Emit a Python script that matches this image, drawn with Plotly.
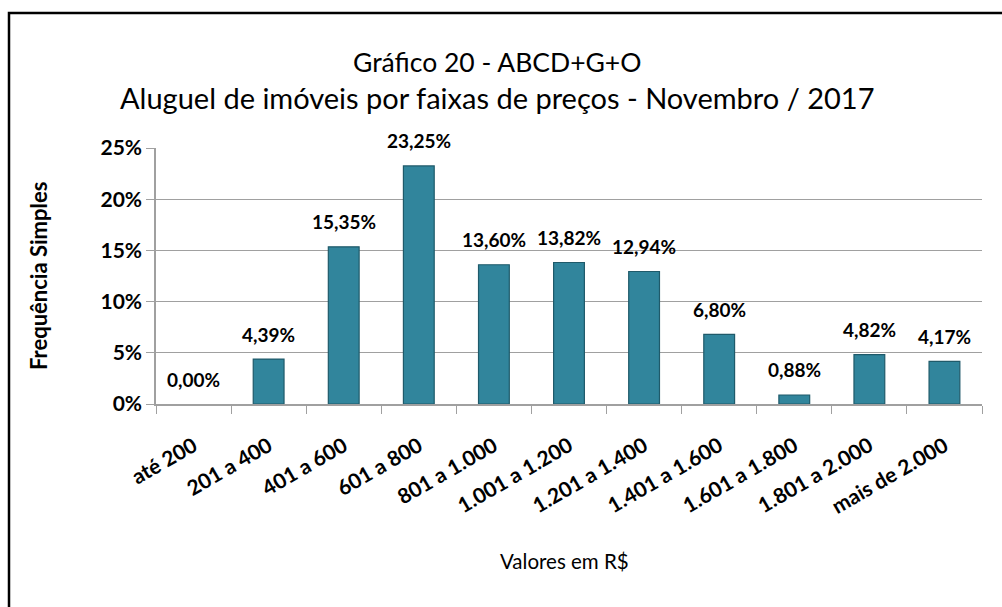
import plotly.graph_objects as go

categories = ["até 200", "201 a 400", "401 a 600", "601 a 800", "801 a 1.000",
              "1.001 a 1.200", "1.201 a 1.400", "1.401 a 1.600", "1.601 a 1.800",
              "1.801 a 2.000", "mais de 2.000"]
values = [0.00, 4.39, 15.35, 23.25, 13.60, 13.82, 12.94, 6.80, 0.88, 4.82, 4.17]
labels = [f"{v:.2f}%".replace(".", ",") for v in values]
y_ticks = [0, 5, 10, 15, 20, 25]
y_ticktext = [f"{t}%" for t in y_ticks]

FONT = "Lato"

fig = go.Figure()
fig.add_trace(go.Bar(
    x=categories, y=values,
    marker=dict(color="#31859C",
                line=dict(color="#1F5A6A", width=[0 if v == 0 else 1.2 for v in values])),
    cliponaxis=False,
))

# data labels above the bars
for c, v, t in zip(categories, values, labels):
    fig.add_annotation(x=c, y=v, xref="x", yref="y", text=t, showarrow=False,
                       yshift=25, xanchor="center", yanchor="middle",
                       font=dict(family=FONT, size=19, color="black", weight="bold"))

fig.update_layout(
    width=1002, height=607,
    margin=dict(l=156, r=20, t=148, b=203),
    paper_bgcolor="white", plot_bgcolor="white",
    showlegend=False,
    bargap=0.59,
    font=dict(family=FONT, color="black"),
    xaxis=dict(
        type="category", tickangle=-30, tickson="boundaries", automargin=False,
        ticks="outside", ticklen=8, tickcolor="#A0A0A0",
        showline=True, linecolor="#A0A0A0", linewidth=1.5,
        tickfont=dict(family=FONT, size=21, weight="bold"),
        ticklabelstandoff=20,
    ),
    yaxis=dict(
        range=[0, 25], tickvals=y_ticks, ticktext=y_ticktext, automargin=False,
        ticks="outside", ticklen=8, tickcolor="#A0A0A0",
        showline=True, linecolor="#A0A0A0", linewidth=1.5,
        showgrid=True, gridcolor="#A0A0A0", gridwidth=1.2,
        zeroline=False,
        tickfont=dict(family=FONT, size=21, weight="bold"),
    ),
)

def ann(text, x, y, size, bold=False, angle=0):
    fig.add_annotation(text=text, xref="paper", yref="paper",
                       x=(x - 156) / 826, y=(404 - y) / 256,
                       xanchor="center", yanchor="middle", textangle=angle,
                       showarrow=False,
                       font=dict(family=FONT, size=size, color="black",
                                 weight="bold" if bold else "normal"))

ann("Gráfico 20 - ABCD+G+O", 497, 62, 26.5)
ann("Aluguel de imóveis por faixas de preços - Novembro / 2017", 497, 97, 29)
ann("Frequência Simples", 38, 276, 22, bold=True, angle=-90)
ann("Valores em R$", 564, 561, 20.5)

# outer frame
fig.add_shape(type="rect", xref="paper", yref="paper",
              x0=(9 - 156) / 826, x1=1.1, y0=-1.0, y1=(404 - 13) / 256,
              line=dict(color="black", width=2.5), layer="below")

fig.write_html("out.html", config={"displayModeBar": False},
               post_script="document.body.style.margin='0';document.body.style.padding='0';")
